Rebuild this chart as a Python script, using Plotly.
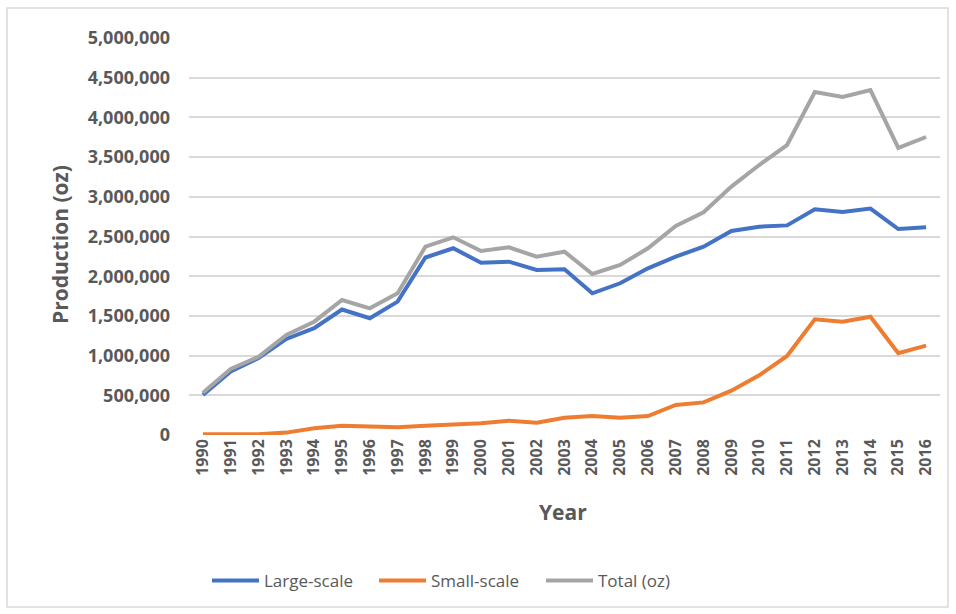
import plotly.graph_objects as go

years = [str(y) for y in range(1990, 2017)]
large_scale = [505000, 800000, 970000, 1210000, 1345000, 1580000, 1470000, 1680000, 2235000, 2352000,
               2170000, 2183000, 2078000, 2087000, 1785000, 1911000, 2099000, 2246000, 2372000, 2569000,
               2624000, 2640000, 2843000, 2809000, 2851000, 2594000, 2616000]
small_scale = [8000, 8000, 10000, 30000, 84000, 117000, 105000, 97000, 117000, 126000,
               147000, 180000, 155000, 218000, 239000, 218000, 239000, 378000, 411000, 558000,
               752000, 995000, 1457000, 1427000, 1490000, 1029000, 1125000]
total_oz = [533000, 831000, 986000, 1259000, 1427000, 1700000, 1595000, 1785000, 2372000, 2490000,
            2317000, 2364000, 2246000, 2309000, 2028000, 2141000, 2351000, 2632000, 2805000, 3128000,
            3400000, 3652000, 4320000, 4257000, 4345000, 3615000, 3753000]
y_ticks = list(range(0, 5000001, 500000))

FONT = "Open Sans"
GREY = "#595959"

fig = go.Figure()
for name, vals, col in [("Large-scale", large_scale, "#4472C4"),
                        ("Small-scale", small_scale, "#ED7D31"),
                        ("Total (oz)", total_oz, "#A5A5A5")]:
    fig.add_trace(go.Scatter(x=years, y=vals, mode="lines", name=name,
                             line=dict(color=col, width=4)))

L, R, T, B = 189, 16, 38, 179
W, H = 956, 614
pw, ph = W - L - R, H - T - B

fig.update_layout(
    width=W, height=H,
    margin=dict(l=L, r=R, t=T, b=B, autoexpand=False),
    paper_bgcolor="white", plot_bgcolor="white",
    font=dict(family=FONT, color=GREY),
    showlegend=True,
    legend=dict(orientation="h", x=(207 - L) / pw, xanchor="left",
                y=(T + ph - 581) / ph, yanchor="middle", entrywidth=105, itemwidth=47,
                font=dict(size=17, color=GREY, family=FONT)),
    xaxis=dict(type="category", tickangle=-90, showgrid=False, automargin=False,
               range=[-0.5, len(years) - 0.5],
               tickfont=dict(size=16, color=GREY, family=FONT, weight="bold"),
               showline=False, ticks=""),
    yaxis=dict(range=[0, 5000000], tickvals=y_ticks, tickformat=",d", automargin=False,
               showgrid=True, gridcolor="#D9D9D9", gridwidth=1.5,
               zeroline=False, showline=False, ticks="",
               ticklabelstandoff=18,
               tickfont=dict(size=18, color=GREY, family=FONT, weight="bold")),
    annotations=[
        dict(text="<b>Production (oz)</b>", xref="paper", yref="paper",
             x=(60 - L) / pw, y=(T + ph - 245) / ph, xanchor="center", yanchor="middle",
             textangle=-90, showarrow=False,
             font=dict(size=21, color=GREY, family=FONT)),
        dict(text="<b>Year</b>", xref="paper", yref="paper",
             x=(563 - L) / pw, y=(T + ph - 512) / ph, xanchor="center", yanchor="middle",
             showarrow=False,
             font=dict(size=21, color=GREY, family=FONT)),
    ],
    shapes=[dict(type="rect", xref="paper", yref="paper",
                 x0=(7 - L) / pw, x1=(948 - L) / pw,
                 y0=(T + ph - 607) / ph, y1=(T + ph - 8) / ph,
                 line=dict(color="#D9D9D9", width=1.5), fillcolor="rgba(0,0,0,0)")],
)

fig.write_html("out.html", config={"displayModeBar": False})
with open("out.html", encoding="utf-8") as f:
    html = f.read()
html = html.replace("<head>", "<head><style>html,body{margin:0;padding:0;overflow:hidden;}</style>", 1)
with open("out.html", "w", encoding="utf-8") as f:
    f.write(html)
